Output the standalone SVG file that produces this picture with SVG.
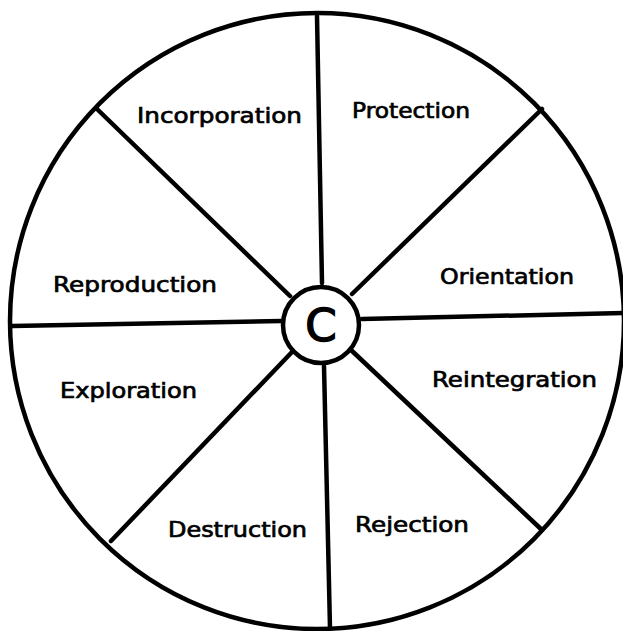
<svg xmlns="http://www.w3.org/2000/svg" width="623" height="631" viewBox="0 0 623 631">
<style>
.ln{stroke:#000;stroke-width:4.5;fill:none;stroke-linecap:round}
.lb{font-family:"DejaVu Sans","Liberation Sans",sans-serif;font-size:21px;fill:#000;stroke:#000;stroke-width:0.7}
.c{font-family:"DejaVu Sans","Liberation Sans",sans-serif;font-size:45px;fill:#000;stroke:#000;stroke-width:1.5;text-anchor:middle}
</style>
<rect width="623" height="631" fill="#fff"/>
<g id="connectors">
<ellipse class="ln" cx="317" cy="321" rx="307" ry="308"/>
<line class="ln" x1="317" y1="16" x2="322" y2="283"/>
<line class="ln" x1="324" y1="366" x2="330" y2="628"/>
<line class="ln" x1="97" y1="109" x2="290" y2="296"/>
<line class="ln" x1="542" y1="109" x2="352" y2="294"/>
<line class="ln" x1="12" y1="326" x2="281" y2="321"/>
<line class="ln" x1="362" y1="319" x2="623" y2="313"/>
<line class="ln" x1="111" y1="541" x2="292" y2="352"/>
<line class="ln" x1="542" y1="530" x2="351" y2="350"/>
</g>
<g id="center">
<circle class="ln" cx="321" cy="325" r="38"/>
<text class="c" x="321" y="341">C</text>
</g>
<g id="incorporation"><text class="lb" x="137" y="123" textLength="165" lengthAdjust="spacingAndGlyphs">Incorporation</text></g>
<g id="protection"><text class="lb" x="352" y="118" textLength="118" lengthAdjust="spacingAndGlyphs">Protection</text></g>
<g id="orientation"><text class="lb" x="440" y="284" textLength="134" lengthAdjust="spacingAndGlyphs">Orientation</text></g>
<g id="reproduction"><text class="lb" x="53" y="292" textLength="164" lengthAdjust="spacingAndGlyphs">Reproduction</text></g>
<g id="exploration"><text class="lb" x="60" y="398" textLength="137" lengthAdjust="spacingAndGlyphs">Exploration</text></g>
<g id="reintegration"><text class="lb" x="432" y="387" textLength="165" lengthAdjust="spacingAndGlyphs">Reintegration</text></g>
<g id="destruction"><text class="lb" x="168" y="537" textLength="139" lengthAdjust="spacingAndGlyphs">Destruction</text></g>
<g id="rejection"><text class="lb" x="355" y="532" textLength="114" lengthAdjust="spacingAndGlyphs">Rejection</text></g>
</svg>
